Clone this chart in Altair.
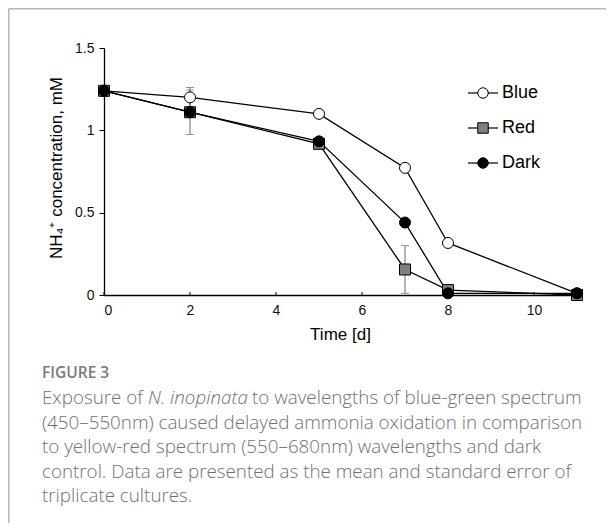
import altair as alt
import pandas as pd

# ---------------- data ----------------
days = [0, 2, 5, 7, 8, 11]
blue = [1.24, 1.20, 1.10, 0.772, 0.316, 0.01]
red = [1.24, 1.11, 0.918, 0.155, 0.03, 0.0]
dark = [1.24, 1.11, 0.933, 0.44, 0.01, 0.01]
blue_se = [0, 0.06, 0, 0, 0, 0]
red_se = [0, 0.135, 0, 0.145, 0, 0]
dark_se = [0, 0, 0, 0, 0, 0]
series_names = ["Blue", "Red", "Dark"]
fills = ["white", "#808080", "black"]
shapes = ["circle", "square", "circle"]
x_ticks = [0, 2, 4, 6, 8, 10]
y_ticks = [0, 0.5, 1, 1.5]

y_title = "NH\u2084\u207a concentration, mM"
x_title = "Time [d]"
fig_label = "FIGURE 3"
cap_first = ["Exposure of", "N. inopinata", "to wavelengths of blue-green spectrum"]
cap_lines = [
    "(450\u2013550nm) caused delayed ammonia oxidation in comparison",
    "to yellow-red spectrum (550\u2013680nm) wavelengths and dark",
    "control. Data are presented as the mean and standard error of",
    "triplicate cultures.",
]

rows = []
for name, vals, ses in zip(series_names, [blue, red, dark], [blue_se, red_se, dark_se]):
    for d, v, s in zip(days, vals, ses):
        rows.append({"day": d, "val": v, "se": s, "series": name,
                     "lo": max(v - s, 0), "hi": v + s})
df = pd.DataFrame(rows)
err = df[df["se"] > 0]

W, H = 473, 247
xs = alt.Scale(domain=[0, 11], nice=False)
ys = alt.Scale(domain=[0, 1.5], nice=False)

base = alt.Chart(df)

X = alt.X("day:Q", scale=xs,
          axis=alt.Axis(values=x_ticks, title=None, ticks=False, labelPadding=8,
                        labelFontSize=14, format="d"))
Y = alt.Y("val:Q", scale=ys,
          axis=alt.Axis(values=y_ticks, title=None, tickSize=5, labelPadding=5,
                        labelFontSize=14, format="~g"))

err_rule = alt.Chart(err).mark_rule(color="#666", strokeWidth=1).encode(
    x=alt.X("day:Q", scale=xs), y=alt.Y("lo:Q", scale=ys), y2="hi:Q")
err_lo = alt.Chart(err).mark_tick(color="#666", orient="horizontal", size=8, thickness=1).encode(
    x=alt.X("day:Q", scale=xs), y=alt.Y("lo:Q", scale=ys))
err_hi = alt.Chart(err).mark_tick(color="#666", orient="horizontal", size=8, thickness=1).encode(
    x=alt.X("day:Q", scale=xs), y=alt.Y("hi:Q", scale=ys))

lines = base.mark_line(color="black", strokeWidth=1.3).encode(
    x=X, y=Y, detail="series:N", order="day:Q")

points = base.mark_point(filled=True, stroke="black", strokeWidth=1, size=121, opacity=1).encode(
    x=alt.X("day:Q", scale=xs), y=alt.Y("val:Q", scale=ys),
    shape=alt.Shape("series:N", scale=alt.Scale(domain=series_names, range=shapes), legend=None),
    fill=alt.Fill("series:N", scale=alt.Scale(domain=series_names, range=fills), legend=None),
)

xt = alt.Chart(pd.DataFrame({"t": x_ticks})).mark_rule(color="black", strokeWidth=1).encode(
    x=alt.X("t:Q", scale=xs), y=alt.value(H - 3), y2=alt.value(H))

one = pd.DataFrame({"a": [0]})

def txt(s, x, y, size, **kw):
    return alt.Chart(pd.DataFrame({"s": [s]})).mark_text(fontSize=size, **kw).encode(
        text="s:N", x=alt.value(x), y=alt.value(y))

# manual legend (line stub + marker + label)
legend = []
for i, (name, f, sh) in enumerate(zip(series_names, fills, shapes)):
    ly = 45 + 35 * i
    legend.append(alt.Chart(one).mark_rule(color="black", strokeWidth=1.2).encode(
        x=alt.value(364), x2=alt.value(394), y=alt.value(ly)))
    legend.append(alt.Chart(one).mark_point(shape=sh, filled=True, fill=f, stroke="black",
                                            strokeWidth=1, size=110, opacity=1).encode(
        x=alt.value(379), y=alt.value(ly)))
    legend.append(txt(name, 398, ly, 18, align="left", baseline="middle",
                      font="Liberation Sans", color="black"))

ytitle = txt(y_title, -47, 120, 17, angle=270, align="center", baseline="middle",
             font="Liberation Sans", color="black")
xtitle = txt(x_title, 236.5, 292, 17, align="center", baseline="alphabetic",
             font="Liberation Sans", color="black")

CAPF = "Open Sans"
CAPC = "#707070"
CS = 18.8
caption = [txt(fig_label, -62, 330, 15.5, align="left", baseline="alphabetic", font=CAPF,
               fontWeight=600, color="#7a7a7a")]
caption.append(txt(cap_first[0], -62, 356, CS, align="left", baseline="alphabetic",
                   font=CAPF, fontWeight=300, color=CAPC))
caption.append(txt(cap_first[1], 44, 356, CS, align="left", baseline="alphabetic",
                   font=CAPF, fontWeight=300, fontStyle="italic", color=CAPC))
caption.append(txt(cap_first[2], 148, 356, CS, align="left", baseline="alphabetic",
                   font=CAPF, fontWeight=300, color=CAPC))
for i, line in enumerate(cap_lines):
    caption.append(txt(line, -62, 380.5 + 24.5 * i, CS, align="left", baseline="alphabetic",
                       font=CAPF, fontWeight=300, color=CAPC))

frame_top = alt.Chart(one).mark_rule(color="#b8b8b8", strokeWidth=1.5).encode(
    x=alt.value(-95.25), x2=alt.value(W + 29), y=alt.value(-39.25))
frame_left = alt.Chart(one).mark_rule(color="#b8b8b8", strokeWidth=1.5).encode(
    x=alt.value(-95.25), y=alt.value(-39.25), y2=alt.value(H + 228))

chart = alt.layer(
    frame_top, frame_left, err_rule, err_lo, err_hi, lines, xt, points,
    *legend, ytitle, xtitle, *caption
).properties(
    width=W, height=H, autosize="none",
    padding={"left": 96, "top": 40, "right": 29, "bottom": 228},
    background="white",
).configure_view(stroke=None).configure_axis(
    grid=False, domainColor="black", domainWidth=1.3, tickColor="black",
    labelColor="#111", labelFont="Liberation Sans",
)

chart.save("out.html", embed_options={"renderer": "svg", "actions": False})
